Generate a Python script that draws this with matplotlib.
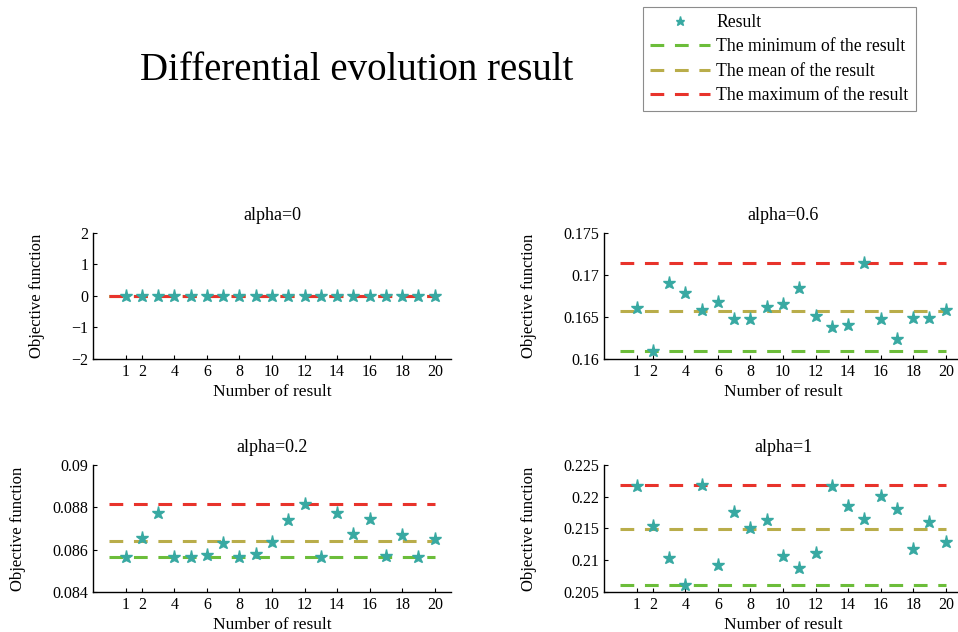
import numpy as np
import matplotlib.pyplot as plt
from matplotlib.ticker import FuncFormatter

plt.rcParams['font.family'] = ['Liberation Serif', 'DejaVu Serif']

# data
runs = list(range(1, 21))
res_a0 = [0.0] * 20
res_a06 = [0.1661, 0.1610, 0.1690, 0.1679, 0.1658, 0.1668, 0.1647, 0.1648, 0.1662, 0.1666,
           0.1685, 0.1651, 0.1638, 0.1640, 0.1714, 0.1647, 0.1624, 0.1649, 0.1649, 0.1658]
res_a02 = [0.08563, 0.08656, 0.08774, 0.08563, 0.08563, 0.08574, 0.08632, 0.08563, 0.08579, 0.08637,
           0.08740, 0.08815, 0.08563, 0.08774, 0.08672, 0.08744, 0.08569, 0.08669, 0.08563, 0.08650]
res_a1 = [0.2217, 0.2154, 0.2104, 0.2061, 0.2218, 0.2092, 0.2176, 0.2150, 0.2164, 0.2106,
          0.2087, 0.2111, 0.2217, 0.2185, 0.2165, 0.2201, 0.2180, 0.2117, 0.2160, 0.2129]

xticks = [1, 2, 4, 6, 8, 10, 12, 14, 16, 18, 20]
yt_a0 = [-2, -1, 0, 1, 2]
yt_a06 = [0.16, 0.165, 0.17, 0.175]
yt_a02 = [0.084, 0.086, 0.088, 0.09]
yt_a1 = [0.205, 0.21, 0.215, 0.22, 0.225]

STAR = '#38a9a2'
C_MIN = '#6cbd3a'
C_MEAN = '#b9ad4a'
C_MAX = '#e8332b'

fig = plt.figure(figsize=(9.58, 6.32), dpi=100)

panels = [
    ('alpha=0', res_a0, yt_a0, [0.0971, 0.432, 0.3737, 0.1994]),
    ('alpha=0.6', res_a06, yt_a06, [0.6305, 0.432, 0.3737, 0.1994]),
    ('alpha=0.2', res_a02, yt_a02, [0.0971, 0.0633, 0.3737, 0.201]),
    ('alpha=1', res_a1, yt_a1, [0.6305, 0.0633, 0.3737, 0.201]),
]

fmt = FuncFormatter(lambda v, p: f'{v:g}'.replace('-', '\u2212'))

handles = None
for title, vals, yt, pos in panels:
    ax = fig.add_axes(pos)
    vals = np.array(vals)
    xs = [0, runs[-1]]
    h0, = ax.plot(runs, vals, '*', color=STAR, markersize=9.5, linestyle='none',
                  label='Result', zorder=5)
    dash = dict(linestyle=(0, (4.5, 3.5)), linewidth=2.2)
    h1, = ax.plot(xs, [vals.min()] * 2, color=C_MIN, label='The minimum of the result', **dash)
    h2, = ax.plot(xs, [vals.mean()] * 2, color=C_MEAN, label='The mean of the result', **dash)
    h3, = ax.plot(xs, [vals.max()] * 2, color=C_MAX, label='The maximum of the result', **dash)
    if handles is None:
        handles = [h0, h1, h2, h3]

    ax.set_xlim(-1, 21)
    ax.set_ylim(yt[0], yt[-1])
    ax.set_xticks(xticks)
    ax.set_yticks(yt)
    ax.yaxis.set_major_formatter(fmt)
    ax.tick_params(direction='in', length=3, labelsize=11.5, width=0.8)
    for s in ['top', 'right']:
        ax.spines[s].set_visible(False)
    for s in ['left', 'bottom']:
        ax.spines[s].set_linewidth(1.0)
    ax.set_title(title, fontsize=13, pad=9)
    ax.set_xlabel('Number of result', fontsize=12.5, labelpad=3)
    ax.set_ylabel('Objective function', fontsize=12, labelpad=19)

fig.text(0.372, 0.888, 'Differential evolution result', fontsize=28, ha='center', va='center')

leg = fig.legend(handles=handles, loc='upper left', bbox_to_anchor=(643 / 958, 1 - 7 / 632),
                 fontsize=12.7, fancybox=False, frameon=True, handlelength=3.4,
                 markerscale=0.7, borderpad=0.4, labelspacing=0.42, handletextpad=0.35,
                 borderaxespad=0)
leg.get_frame().set_edgecolor('#707070')
leg.get_frame().set_linewidth(0.8)

plt.savefig('out.png', dpi=100)
